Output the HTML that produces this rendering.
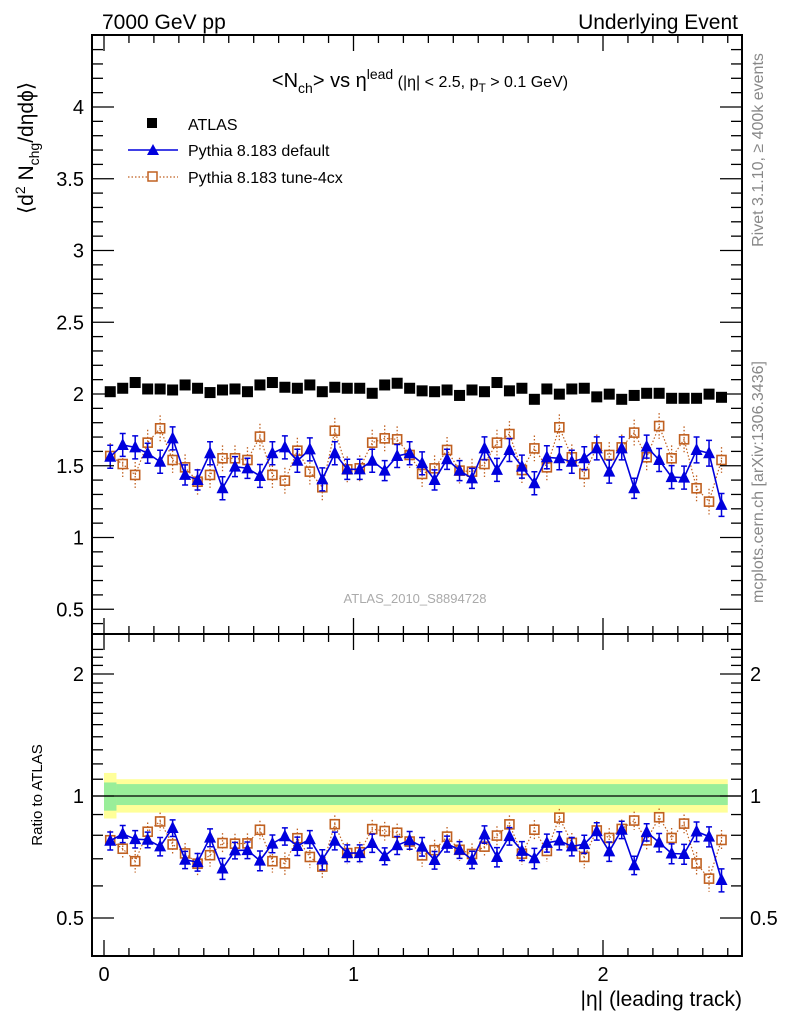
<!DOCTYPE html>
<html><head><meta charset="utf-8"><style>
body{margin:0;background:#fff;}
svg{display:block;font-family:"Liberation Sans","DejaVu Sans",sans-serif;}
</style></head><body>
<svg id="c" width="786" height="1024" viewBox="0 0 786 1024">
<g id="bands"></g><g id="grid"></g><g id="marks"></g><g id="axes"></g>
<text x="102" y="29" font-size="21">7000 GeV pp</text>
<text x="738" y="29" font-size="21" text-anchor="end">Underlying Event</text>
<text x="420" y="87" font-size="20" text-anchor="middle">&lt;N<tspan font-size="14" dy="6">ch</tspan><tspan dy="-6">&gt; vs η</tspan><tspan font-size="14" dy="-8">lead</tspan><tspan font-size="16" dy="8"> (|η| &lt; 2.5, p</tspan><tspan font-size="12" dy="5">T</tspan><tspan font-size="16" dy="-5"> &gt; 0.1 GeV)</tspan></text>
<g>
<rect x="147" y="118" width="10" height="10" fill="#000"/>
<text x="188" y="130" font-size="16">ATLAS</text>
<line x1="128" y1="150" x2="178" y2="150" stroke="#0000dd" stroke-width="1.5"/>
<path d="M147,155 L153,144 L159,155Z" fill="#0000dd"/>
<text x="188" y="156" font-size="16">Pythia 8.183 default</text>
<line x1="128" y1="177" x2="178" y2="177" stroke="#c06020" stroke-width="1.2" stroke-dasharray="1.5,2"/>
<rect x="148" y="172" width="9" height="9" fill="#fff" stroke="#c06020" stroke-width="1.5"/>
<text x="188" y="183" font-size="16">Pythia 8.183 tune-4cx</text>
</g>
<text x="415" y="603" font-size="13" fill="#aaa" text-anchor="middle">ATLAS_2010_S8894728</text>
<text transform="translate(763,150) rotate(-90)" font-size="16" fill="#888" text-anchor="middle">Rivet 3.1.10, ≥ 400k events</text>
<text transform="translate(763,482) rotate(-90)" font-size="16" fill="#888" text-anchor="middle">mcplots.cern.ch [arXiv:1306.3436]</text>
<text transform="translate(33,148) rotate(-90)" font-size="21" text-anchor="middle">⟨d<tspan font-size="14" dy="-8">2</tspan><tspan dy="8"> N</tspan><tspan font-size="14" dy="6">chg</tspan><tspan dy="-6">/dηdϕ⟩</tspan></text>
<text transform="translate(42,795) rotate(-90)" font-size="15" text-anchor="middle">Ratio to ATLAS</text>
<text x="742" y="1006" font-size="21" text-anchor="end">|η| (leading track)</text>
</svg>
<script>
const etaCenters=[0.025,0.075,0.125,0.175,0.225,0.275,0.325,0.375,0.425,0.475,0.525,0.575,0.625,0.675,0.725,0.775,0.825,0.875,0.925,0.975,1.025,1.075,1.125,1.175,1.225,1.275,1.325,1.375,1.425,1.475,1.525,1.575,1.625,1.675,1.725,1.775,1.825,1.875,1.925,1.975,2.025,2.075,2.125,2.175,2.225,2.275,2.325,2.375,2.425,2.475];
const atlas=[2.016,2.04,2.08,2.035,2.035,2.028,2.063,2.04,2.01,2.028,2.035,2.016,2.063,2.08,2.047,2.04,2.063,2.016,2.047,2.04,2.04,2.005,2.063,2.075,2.04,2.022,2.016,2.028,1.99,2.028,2.016,2.08,2.022,2.04,1.963,2.035,1.999,2.035,2.04,1.98,1.999,1.963,1.99,2.005,2.005,1.97,1.97,1.97,1.999,1.977];
const atlasErr=[0.02,0.02,0.02,0.02,0.02,0.02,0.02,0.02,0.02,0.02,0.02,0.02,0.02,0.02,0.02,0.02,0.02,0.02,0.02,0.02,0.02,0.02,0.02,0.02,0.02,0.02,0.02,0.02,0.02,0.02,0.02,0.02,0.02,0.02,0.02,0.02,0.02,0.02,0.02,0.02,0.02,0.02,0.02,0.02,0.02,0.02,0.02,0.02,0.02,0.02];
const pyDefault=[1.563,1.645,1.628,1.587,1.528,1.691,1.436,1.401,1.587,1.343,1.494,1.482,1.429,1.587,1.628,1.535,1.614,1.405,1.587,1.475,1.475,1.535,1.466,1.568,1.587,1.517,1.401,1.545,1.466,1.412,1.621,1.471,1.610,1.494,1.378,1.559,1.552,1.528,1.552,1.621,1.459,1.621,1.343,1.633,1.540,1.421,1.417,1.610,1.587,1.227];
const pyDefaultErr=[0.08,0.08,0.08,0.07,0.08,0.08,0.07,0.07,0.08,0.08,0.07,0.07,0.08,0.08,0.08,0.08,0.08,0.08,0.08,0.07,0.07,0.08,0.07,0.08,0.08,0.08,0.07,0.07,0.07,0.07,0.08,0.08,0.08,0.08,0.08,0.08,0.08,0.08,0.08,0.08,0.08,0.08,0.07,0.08,0.08,0.08,0.08,0.09,0.09,0.08];
const pyTune=[1.568,1.512,1.436,1.661,1.761,1.540,1.489,1.389,1.436,1.552,1.552,1.540,1.703,1.436,1.396,1.605,1.459,1.350,1.744,1.475,1.482,1.661,1.691,1.684,1.575,1.443,1.482,1.610,1.466,1.459,1.512,1.661,1.721,1.470,1.621,1.489,1.768,1.559,1.443,1.628,1.575,1.628,1.731,1.559,1.777,1.552,1.684,1.343,1.250,1.540];
const pyTuneErr=[0.09,0.09,0.09,0.09,0.09,0.09,0.09,0.09,0.09,0.09,0.09,0.09,0.09,0.09,0.09,0.09,0.09,0.09,0.09,0.09,0.09,0.09,0.09,0.09,0.09,0.09,0.09,0.09,0.09,0.09,0.09,0.09,0.09,0.09,0.09,0.09,0.09,0.09,0.09,0.09,0.09,0.09,0.09,0.09,0.09,0.09,0.09,0.09,0.09,0.09];
const bandInnerUp=[0.08,0.07];
const bandInnerDn=[0.08,0.05];
const bandOuterUp=[0.14,0.10];
const bandOuterDn=[0.12,0.09];
const mainTicks=[0.5,1,1.5,2,2.5,3,3.5,4];
const mainTickLabels=["0.5","1","1.5","2","2.5","3","3.5","4"];
const ratioTicks=[0.5,1,2];
const ratioTickLabels=["0.5","1","2"];
const xTicks=[0,1,2];
const xTickLabels=["0","1","2"];

const L=92,R=742,T=35,MB=634,RB=956;
const X=v=>104+v*249.5;
const Y=v=>394-(v-2)*143.5;
const YR=v=>796-Math.log2(v)*122;
const NS='http://www.w3.org/2000/svg';
function mk(tag,at,parent){const e=document.createElementNS(NS,tag);for(const k in at)e.setAttribute(k,at[k]);document.getElementById(parent).appendChild(e);return e;}

// bands
{const segs=[[0,0.05],[0.05,2.5]];
segs.forEach(([a,b],i)=>{
const o=mk('rect',{x:X(a),y:YR(1+bandOuterUp[i]),width:X(b)-X(a),height:YR(1-bandOuterDn[i])-YR(1+bandOuterUp[i]),fill:'#ffff99'},'bands');


const n=mk('rect',{x:X(a),y:YR(1+bandInnerUp[i]),width:X(b)-X(a),height:YR(1-bandInnerDn[i])-YR(1+bandInnerUp[i]),fill:'#99ee99'},'bands');

});
const l=mk('line',{x1:L,x2:R,y1:YR(1),y2:YR(1),stroke:'#000','stroke-width':1.2},'bands');

}

function series(vals,errs,color,dash,marker,yf,ref,name){
  const pts=etaCenters.map((c,i)=>{const v=ref?vals[i]/ref[i]:vals[i];return [X(c),yf(v),v,ref?errs[i]/ref[i]:errs[i]];});
  if(color){const p=mk('polyline',{points:pts.map(p=>p[0]+','+p[1]).join(' '),fill:'none',stroke:color,'stroke-width':dash?1.2:1.6,'stroke-dasharray':dash||'none'},'marks');
  
  }
  pts.forEach(([x,y,v,e])=>{
    const y1=yf(v+e),y2=yf(v-e);const col=color||'#000';
    const eb=mk('path',{d:`M${x},${y1}V${y2}`+(marker==='tri'?`M${x-3},${y1}H${x+3}M${x-3},${y2}H${x+3}`:''),stroke:col,'stroke-width':marker==='tri'?1.5:1.3,'stroke-dasharray':dash?'1.5,2':'none',fill:'none'},'marks');
    
    
    let m;
    if(marker==='sq') m=mk('rect',{x:x-5.5,y:y-5.5,width:11,height:11,fill:'#000'},'marks');
    else if(marker==='tri') m=mk('path',{d:`M${x-6},${y+5} L${x},${y-7} L${x+6},${y+5}Z`,fill:'#0000dd'},'marks');
    else m=mk('rect',{x:x-4.5,y:y-4.5,width:9,height:9,fill:'none',stroke:'#c06020','stroke-width':1.6},'marks');
    
    
  });
}
series(atlas,atlasErr,null,null,'sq',Y,null,'atlas');
series(pyTune,pyTuneErr,'#c06020','1.5,2','osq',Y,null,'tune4cx');
series(pyDefault,pyDefaultErr,'#0000dd',null,'tri',Y,null,'default');
series(pyTune,pyTuneErr,'#c06020','1.5,2','osq',YR,atlas,'tune4cx-ratio');
series(pyDefault,pyDefaultErr,'#0000dd',null,'tri',YR,atlas,'default-ratio');

// axes
function ln(x1,y1,x2,y2,w){const l=mk('line',{x1,y1,x2,y2,stroke:'#000','stroke-width':w||1.3},'axes');return l;}
{const f1=mk('rect',{x:L,y:T,width:R-L,height:MB-T,fill:'none',stroke:'#000','stroke-width':2},'axes');


const f2=mk('rect',{x:L,y:MB,width:R-L,height:RB-MB,fill:'none',stroke:'#000','stroke-width':2},'axes');

}
for(let k=-1;k<=25;k++){const v=k/10;const x=X(v);if(x<L||x>R)continue;
  const len=(k%10===0)?16:8;
  [[T,1],[MB,-1],[MB,1],[RB,-1]].forEach(([y,d])=>ln(x,y,x,y+d*len));}
for(let k=3;k<=45;k++){const v=k/10;const y=Y(v);if(y<T||y>MB)continue;const len=(k%5===0)?22:11;ln(L,y,L+len,y);ln(R,y,R-len,y);}
for(let k=4;k<=23;k++){const v=k/10;const y=YR(v);if(y<MB||y>RB)continue;const len=(k===5||k===10||k===20)?22:11;ln(L,y,L+len,y);ln(R,y,R-len,y);}
mainTicks.forEach((v,i)=>{const t=mk('text',{x:L-8,y:Y(v)+7,'font-size':20,'text-anchor':'end'},'axes');t.textContent=mainTickLabels[i];

});
ratioTicks.forEach((v,i)=>{[[L-8,'end'],[R+8,'start']].forEach(([x,a])=>{const t=mk('text',{x,y:YR(v)+7,'font-size':20,'text-anchor':a},'axes');t.textContent=ratioTickLabels[i];

});});
xTicks.forEach((v,i)=>{const t=mk('text',{x:X(v),y:981,'font-size':20,'text-anchor':'middle'},'axes');t.textContent=xTickLabels[i];

});
</script>
</body></html>
